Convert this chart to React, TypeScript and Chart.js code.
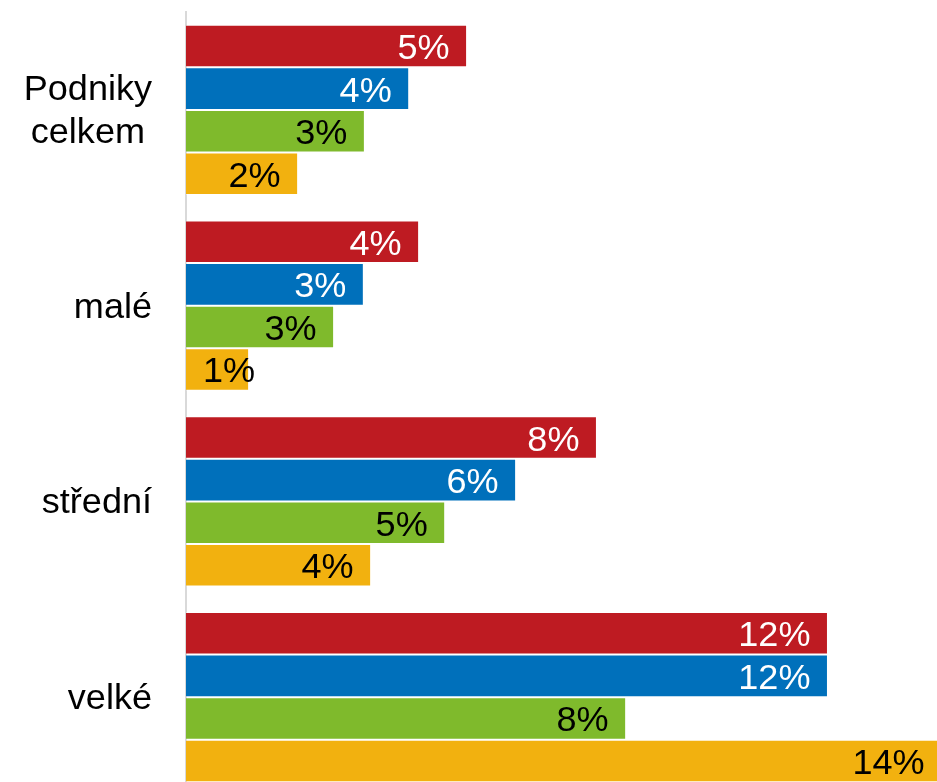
import { useEffect, useRef } from 'react';
import { Chart, registerables } from 'chart.js';

Chart.register(...registerables);

// Categories (multi-line labels as arrays)
const categories: string[][] = [['Podniky', 'celkem'], ['malé'], ['střední'], ['velké']];

// Series names (no legend shown in the reference)
const seriesNames = ['Řada 1', 'Řada 2', 'Řada 3', 'Řada 4'];

// Values in %
const series1 = [5.39, 4.47, 7.88, 12.31];
const series2 = [4.28, 3.41, 6.33, 12.31];
const series3 = [3.43, 2.84, 4.97, 8.44];
const series4 = [2.15, 1.21, 3.55, 14.5];

// Data labels as shown
const labels1 = ['5%', '4%', '8%', '12%'];
const labels2 = ['4%', '3%', '6%', '12%'];
const labels3 = ['3%', '3%', '5%', '8%'];
const labels4 = ['2%', '1%', '4%', '14%'];

const xMax = 14.65;

const colors = ['#BE1B22', '#0070BB', '#7FBA2C', '#F2B10F'];
const labelColors = ['#ffffff', '#ffffff', '#000000', '#000000'];

const FONT_FAMILY = '"Liberation Sans", Arial, sans-serif';
const FONT_SIZE = 35;
const SX = 1.03;

function drawScaledText(ctx: CanvasRenderingContext2D, text: string, xRight: number, y: number, color: string) {
  ctx.save();
  ctx.translate(xRight, y);
  ctx.scale(SX, 1);
  ctx.fillStyle = color;
  ctx.textAlign = 'right';
  ctx.textBaseline = 'alphabetic';
  ctx.fillText(text, 0, 0);
  ctx.restore();
}

const labelPlugin = {
  id: 'customLabels',
  afterDatasetsDraw(chart: any) {
    const ctx: CanvasRenderingContext2D = chart.ctx;
    ctx.save();
    ctx.font = `${FONT_SIZE}px ${FONT_FAMILY}`;
    const allLabels = [labels1, labels2, labels3, labels4];
    chart.data.datasets.forEach((_ds: any, di: number) => {
      const meta = chart.getDatasetMeta(di);
      meta.data.forEach((bar: any, i: number) => {
        const txt = allLabels[di][i];
        const w = ctx.measureText(txt).width * SX;
        const start = Math.min(bar.base, bar.x);
        const end = Math.max(bar.base, bar.x);
        const right = Math.max(end - 17.5, start + 17 + w);
        drawScaledText(ctx, txt, right, bar.y + 13, labelColors[di]);
      });
    });
    // Category labels
    const yScale = chart.scales.y;
    const rightEdge = 152;
    const lineH = 43;
    categories.forEach((lines, i) => {
      const cy = yScale.getPixelForValue(i);
      const widths = lines.map((l) => ctx.measureText(l).width * SX);
      const widest = Math.max(...widths);
      const centerX = rightEdge - widest / 2;
      const n = lines.length;
      lines.forEach((l, li) => {
        const baseline = cy + 12 + (li - (n - 1) / 2) * lineH;
        drawScaledText(ctx, l, centerX + widths[li] / 2, baseline, '#000000');
      });
    });
    ctx.restore();
  },
};

export default function App() {
  const canvasRef = useRef<HTMLCanvasElement | null>(null);

  useEffect(() => {
    if (!canvasRef.current) return;
    const allSeries = [series1, series2, series3, series4];
    const chart = new Chart(canvasRef.current, {
      type: 'bar',
      data: {
        labels: categories.map((c) => c.join(' ')),
        datasets: allSeries.map((s, i) => ({
          label: seriesNames[i],
          data: s,
          backgroundColor: colors[i],
          borderColor: 'rgba(255,255,255,0.35)',
          borderWidth: 1,
          categoryPercentage: 0.87,
          barPercentage: 1.0,
        })),
      },
      options: {
        indexAxis: 'y',
        responsive: false,
        animation: false,
        layout: { padding: { left: 185, top: 12, right: 0, bottom: 0 } },
        plugins: {
          legend: { display: false },
          tooltip: { enabled: false },
          title: { display: false },
        },
        scales: {
          x: {
            display: false,
            min: 0,
            max: xMax,
          },
          y: {
            ticks: { display: false },
            grid: { display: false },
            border: { display: true, color: '#d9d9d9', width: 2 },
            afterFit: (scale: any) => {
              scale.width = 1;
            },
          },
        },
      },
      plugins: [labelPlugin],
    });
    return () => chart.destroy();
  }, []);

  return (
    <div
      style={{
        position: 'fixed',
        left: 0,
        top: 0,
        width: 937,
        height: 782,
        overflow: 'hidden',
        background: '#ffffff',
      }}
    >
      <canvas ref={canvasRef} width={950} height={795} style={{ display: 'block' }} />
    </div>
  );
}
